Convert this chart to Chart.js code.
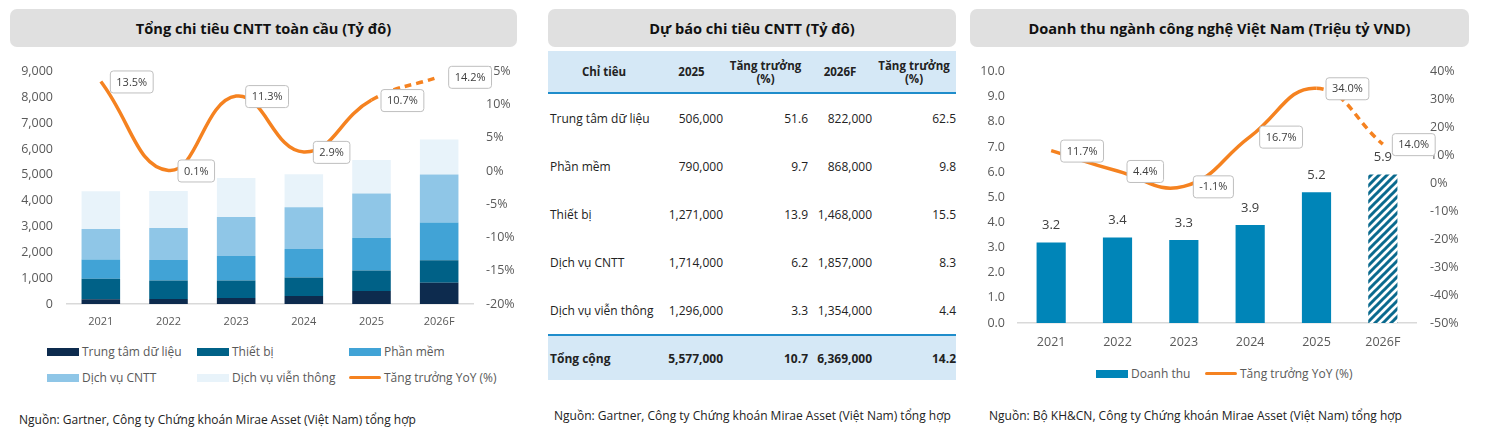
<!DOCTYPE html>
<html lang="vi">
<head>
<meta charset="UTF-8">
<title>Chi tiêu CNTT</title>
<style>
    body {
        margin: 0;
        width: 1509px;
        height: 428px;
        background: #fff;
        font-family: "Open Sans", "Noto Sans", sans-serif;
        color: #222;
        position: relative;
        overflow: hidden;
    }

    .title {
        position: absolute;
        top: 9px;
        height: 38px;
        line-height: 38px;
        background: #e0e0e0;
        border-radius: 7px;
        text-align: center;
        font-weight: bold;
        font-size: 14.6px;
        color: #111;
    }

    .chart-box {
        position: absolute;
    }

    .legend {
        position: absolute;
        font-size: 12px;
        color: #595959;
    }

    .legend .item {
        position: absolute;
        white-space: nowrap;
        line-height: 16px;
    }

    .legend .sw {
        display: inline-block;
        width: 32px;
        height: 8px;
        vertical-align: middle;
        margin-right: 3px;
        position: relative;
        top: -1px;
    }

    .legend .ln {
        display: inline-block;
        width: 32px;
        height: 3px;
        border-radius: 2px;
        vertical-align: middle;
        margin-right: 3px;
        background: #f58220;
        position: relative;
        top: -1px;
    }

    .source {
        position: absolute;
        font-size: 12px;
        color: #222;
        white-space: nowrap;
    }

    table {
        position: absolute;
        left: 548px;
        top: 51px;
        width: 408px;
        border-collapse: collapse;
        font-size: 12px;
        color: #222;
    }

    th {
        background: #d5e8f6;
        font-weight: bold;
        font-size: 11.5px;
        height: 41px;
        line-height: 13px;
        border-bottom: 2px solid #1f8dcb;
        padding: 0;
        text-align: center;
    }

    td {
        height: 48px;
        padding: 0;
        text-align: right;
    }

    td:first-child {
        text-align: left;
        padding-left: 2px;
    }

    tr.total td {
        background: #d5e8f6;
        font-weight: bold;
        height: 44px;
        border-top: 2px solid #1f8dcb;
    }
</style>
</head>
<body>
    <!-- left: global IT spending -->
    <div class="title" style="left:10px; width:507px;">Tổng chi tiêu CNTT toàn cầu (Tỷ đô)</div>
    <div class="chart-box" style="left:0; top:50px; width:530px; height:285px;">
        <canvas id="globalChart"></canvas>
    </div>
    <div class="legend" id="globalLegend" style="left:0; top:0;"></div>
    <div class="source" style="left:19px; top:411px;">Nguồn: Gartner, Công ty Chứng khoán Mirae Asset (Việt Nam) tổng hợp</div>

    <!-- middle: forecast table -->
    <div class="title" style="left:548px; width:408px;">Dự báo chi tiêu CNTT (Tỷ đô)</div>
    <table id="forecastTable"></table>
    <div class="source" style="left:554px; top:407px;">Nguồn: Gartner, Công ty Chứng khoán Mirae Asset (Việt Nam) tổng hợp</div>

    <!-- right: Vietnam tech revenue -->
    <div class="title" style="left:970px; width:499px;">Doanh thu ngành công nghệ Việt Nam (Triệu tỷ VND)</div>
    <div class="chart-box" style="left:960px; top:50px; width:549px; height:300px;">
        <canvas id="vnChart"></canvas>
    </div>
    <div class="legend" id="vnLegend" style="left:0; top:0;"></div>
    <div class="source" style="left:989px; top:407px;">Nguồn: Bộ KH&amp;CN, Công ty Chứng khoán Mirae Asset (Việt Nam) tổng hợp</div>

    <script src="https://cdn.jsdelivr.net/npm/chart.js"></script>
    <script>
        // ---- data: global IT spending ----
        const years = ['2021', '2022', '2023', '2024', '2025', '2026F'];
        const dataCenter = [180, 193, 231, 308, 506, 822];
        const devices = [796, 718, 680, 719, 790, 868];
        const software = [744, 796, 950, 1104, 1271, 1468];
        const itServices = [1181, 1233, 1502, 1617, 1714, 1857];
        const telecom = [1464, 1437, 1515, 1271, 1296, 1354];
        const globalGrowth = [13.5, 0.1, 11.3, 2.9, 10.7, 14.2];

        // ---- data: forecast table ----
        const tableItems = ['Trung tâm dữ liệu', 'Phần mềm', 'Thiết bị', 'Dịch vụ CNTT', 'Dịch vụ viễn thông'];
        const table2025 = ['506,000', '790,000', '1,271,000', '1,714,000', '1,296,000'];
        const tableGrowth2025 = ['51.6', '9.7', '13.9', '6.2', '3.3'];
        const table2026 = ['822,000', '868,000', '1,468,000', '1,857,000', '1,354,000'];
        const tableGrowth2026 = ['62.5', '9.8', '15.5', '8.3', '4.4'];
        const tableTotal = ['Tổng cộng', '5,577,000', '10.7', '6,369,000', '14.2'];

        // ---- data: Vietnam tech revenue ----
        const vnRevenue = [3.2, 3.4, 3.3, 3.9, 5.2, 5.9];
        const vnGrowth = [11.7, 4.4, -1.1, 16.7, 34.0, 14.0];

        const ORANGE = '#f58220';
        const TICK = '#595959';
        const FONT = '"Open Sans", "Noto Sans", sans-serif';

        // boxed % labels next to line points
        const boxLabels = {
            id: 'boxLabels',
            afterDatasetsDraw(chart, args, opts) {
                if (!opts || opts.index === undefined) return;
                const meta = chart.getDatasetMeta(opts.index);
                const ctx = chart.ctx;
                ctx.save();
                ctx.font = '11px ' + FONT;
                ctx.textBaseline = 'middle';
                meta.data.forEach((pt, i) => {
                    const txt = chart.data.datasets[opts.index].data[i].toFixed(1) + '%';
                    const w = ctx.measureText(txt).width + 12;
                    const h = 22;
                    const x = pt.x + 9;
                    const y = pt.y - h / 2;
                    ctx.beginPath();
                    ctx.roundRect(x + 0.5, y + 0.5, w, h, 3);
                    ctx.fillStyle = '#fff';
                    ctx.fill();
                    ctx.strokeStyle = '#bfbfbf';
                    ctx.lineWidth = 1;
                    ctx.stroke();
                    ctx.fillStyle = '#404040';
                    ctx.fillText(txt, x + 6.5, y + h / 2 + 1);
                });
                ctx.restore();
            }
        };

        // value labels above bars
        const barValues = {
            id: 'barValues',
            afterDatasetsDraw(chart, args, opts) {
                if (!opts || opts.index === undefined) return;
                const meta = chart.getDatasetMeta(opts.index);
                const ctx = chart.ctx;
                ctx.save();
                ctx.font = '13px ' + FONT;
                ctx.fillStyle = '#404040';
                ctx.textAlign = 'center';
                ctx.textBaseline = 'middle';
                meta.data.forEach((bar, i) => {
                    ctx.fillText(chart.data.datasets[opts.index].data[i].toFixed(1), bar.x, bar.y - 17);
                });
                ctx.restore();
            }
        };

        function fixWidth(w) {
            return scale => { scale.width = w; };
        }

        function fixHeight(h) {
            return scale => { scale.height = h; };
        }

        const dashLast = ctx => ctx.p1DataIndex === years.length - 1 ? [7, 5] : undefined;

        // ---- left chart ----
        new Chart(document.getElementById('globalChart'), {
            type: 'bar',
            data: {
                labels: years,
                datasets: [
                    { type: 'line', label: 'Tăng trưởng YoY (%)', data: globalGrowth, yAxisID: 'y1', borderColor: ORANGE, borderWidth: 3.5, pointRadius: 0, tension: 0.45, order: 0, segment: { borderDash: dashLast } },
                    { label: 'Trung tâm dữ liệu', data: dataCenter, backgroundColor: '#0d2b4e', order: 1 },
                    { label: 'Thiết bị', data: devices, backgroundColor: '#006187', order: 1 },
                    { label: 'Phần mềm', data: software, backgroundColor: '#41a3d6', order: 1 },
                    { label: 'Dịch vụ CNTT', data: itServices, backgroundColor: '#8fc6e7', order: 1 },
                    { label: 'Dịch vụ viễn thông', data: telecom, backgroundColor: '#e8f3fa', order: 1 }
                ]
            },
            options: {
                responsive: true,
                maintainAspectRatio: false,
                animation: false,
                datasets: { bar: { barPercentage: 0.57, categoryPercentage: 1 } },
                layout: { padding: { top: 21, left: 0, right: 0, bottom: 0 } },
                plugins: {
                    legend: { display: false },
                    tooltip: { enabled: false },
                    boxLabels: { index: 0 }
                },
                scales: {
                    x: {
                        stacked: true,
                        grid: { display: false, drawTicks: false },
                        border: { color: '#d9d9d9', width: 1.5 },
                        ticks: { color: TICK, font: { family: FONT, size: 11 }, padding: 11 },
                        afterFit: fixHeight(31)
                    },
                    y: {
                        stacked: true,
                        min: 0,
                        max: 9000,
                        grid: { display: false, drawTicks: false },
                        border: { display: false },
                        ticks: { stepSize: 1000, color: TICK, font: { family: FONT, size: 12.5 }, padding: 14, callback: v => v.toLocaleString('en-US') },
                        afterFit: fixWidth(67)
                    },
                    y1: {
                        position: 'right',
                        min: -20,
                        max: 15,
                        grid: { display: false, drawTicks: false },
                        border: { display: false },
                        ticks: { stepSize: 5, color: TICK, font: { family: FONT, size: 12.5 }, padding: 13, callback: v => v + '%' },
                        afterFit: fixWidth(57)
                    }
                }
            },
            plugins: [boxLabels]
        });

        // ---- right chart ----
        function hatch() {
            const c = document.createElement('canvas');
            c.width = 8;
            c.height = 8;
            const g = c.getContext('2d');
            g.fillStyle = '#fff';
            g.fillRect(0, 0, 8, 8);
            g.strokeStyle = '#0b6a8e';
            g.lineWidth = 3;
            g.beginPath();
            g.moveTo(-2, 10); g.lineTo(10, -2);
            g.moveTo(-6, 6); g.lineTo(6, -6);
            g.moveTo(2, 14); g.lineTo(14, 2);
            g.stroke();
            return g.createPattern(c, 'repeat');
        }
        const hatchFill = hatch();

        new Chart(document.getElementById('vnChart'), {
            type: 'bar',
            data: {
                labels: years,
                datasets: [
                    { type: 'line', label: 'Tăng trưởng YoY (%)', data: vnGrowth, yAxisID: 'y1', borderColor: ORANGE, borderWidth: 3.5, pointRadius: 0, tension: 0.45, order: 0, segment: { borderDash: dashLast } },
                    { label: 'Doanh thu', data: vnRevenue, backgroundColor: years.map((y, i) => i === years.length - 1 ? hatchFill : '#0085b8'), order: 1 }
                ]
            },
            options: {
                responsive: true,
                maintainAspectRatio: false,
                animation: false,
                datasets: { bar: { barPercentage: 0.44, categoryPercentage: 1 } },
                layout: { padding: { top: 19, left: 0, right: 0, bottom: 0 } },
                plugins: {
                    legend: { display: false },
                    tooltip: { enabled: false },
                    boxLabels: { index: 0 },
                    barValues: { index: 1 }
                },
                scales: {
                    x: {
                        grid: { display: false, drawTicks: false },
                        border: { color: '#d9d9d9', width: 1.5 },
                        ticks: { color: TICK, font: { family: FONT, size: 12.5 }, padding: 12 },
                        afterFit: fixHeight(27)
                    },
                    y: {
                        min: 0,
                        max: 10,
                        grid: { display: false, drawTicks: false },
                        border: { display: false },
                        ticks: { stepSize: 1, color: TICK, font: { family: FONT, size: 12.5 }, padding: 13, callback: v => v.toFixed(1) },
                        afterFit: fixWidth(58)
                    },
                    y1: {
                        position: 'right',
                        min: -50,
                        max: 40,
                        grid: { display: false, drawTicks: false },
                        border: { display: false },
                        ticks: { stepSize: 10, color: TICK, font: { family: FONT, size: 12.5 }, padding: 14, callback: v => v + '%' },
                        afterFit: fixWidth(93)
                    }
                }
            },
            plugins: [boxLabels, barValues]
        });

        // ---- legends ----
        function legendItem(parent, x, y, label, color, isLine) {
            const el = document.createElement('div');
            el.className = 'item';
            el.style.left = x + 'px';
            el.style.top = (y - 8) + 'px';
            const sw = document.createElement('span');
            sw.className = isLine ? 'ln' : 'sw';
            if (!isLine) sw.style.background = color;
            el.appendChild(sw);
            el.appendChild(document.createTextNode(label));
            parent.appendChild(el);
        }

        const gl = document.getElementById('globalLegend');
        legendItem(gl, 47, 352, 'Trung tâm dữ liệu', '#0d2b4e');
        legendItem(gl, 197, 352, 'Thiết bị', '#006187');
        legendItem(gl, 349, 352, 'Phần mềm', '#41a3d6');
        legendItem(gl, 47, 378, 'Dịch vụ CNTT', '#8fc6e7');
        legendItem(gl, 197, 378, 'Dịch vụ viễn thông', '#e8f3fa');
        legendItem(gl, 349, 378, 'Tăng trưởng YoY (%)', ORANGE, true);

        const vl = document.getElementById('vnLegend');
        legendItem(vl, 1096, 374, 'Doanh thu', '#0085b8');
        legendItem(vl, 1205, 374, 'Tăng trưởng YoY (%)', ORANGE, true);

        // ---- table ----
        const tbl = document.getElementById('forecastTable');
        tbl.innerHTML =
            '<colgroup><col style="width:112px"><col style="width:63px"><col style="width:85px"><col style="width:64px"><col style="width:84px"></colgroup>' +
            '<tr><th>Chỉ tiêu</th><th>2025</th><th>Tăng trưởng<br>(%)</th><th>2026F</th><th>Tăng trưởng<br>(%)</th></tr>' +
            tableItems.map((name, i) =>
                '<tr><td>' + name + '</td><td>' + table2025[i] + '</td><td>' + tableGrowth2025[i] +
                '</td><td>' + table2026[i] + '</td><td>' + tableGrowth2026[i] + '</td></tr>').join('') +
            '<tr class="total">' + tableTotal.map(v => '<td>' + v + '</td>').join('') + '</tr>';
    </script>
</body>
</html>
